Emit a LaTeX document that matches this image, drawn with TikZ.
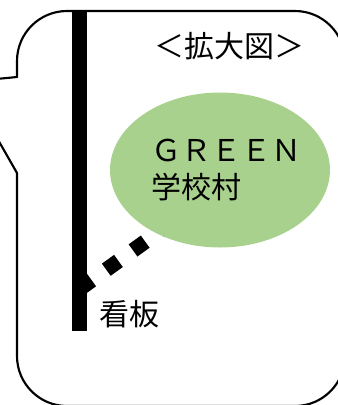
\documentclass[tikz,border=0pt]{standalone}
\usepackage{fontspec}
\usepackage{tikz}
\usetikzlibrary{calc}
\usetikzlibrary{shapes.geometric}
\usetikzlibrary{backgrounds}
\newfontfamily\cjk{Noto Sans CJK JP}
\definecolor{aadd8e}{rgb}{0.6627450980392157,0.8196078431372549,0.5568627450980392}
\tikzset{every node/.style={font=\cjk\fontsize{22.5}{28}\selectfont}}
\tikzset{lbl/.style={inner sep=0pt}}
\tikzset{signdash/.style={line width=11.25pt,dash pattern=on 11.25pt off 13.5pt,line cap=butt}}

\begin{document}
\begin{tikzpicture}[line cap=round,line join=round,x=0.75pt,y=-0.75pt]
\useasboundingbox (0,0) rectangle (338,405);
\clip (0,0) rectangle (338,405);
\draw [line width=1.6pt,rounded corners=37.5pt] (17,173) -- (17,406) -- (345,406) -- (345,11) -- (17,11) -- (17,77);
\draw [line width=1.6pt] (17,77) -- (-35,82) -- (17,173);
\node [ellipse,fill=aadd8e,minimum width=165pt,minimum height=116.25pt,inner sep=0pt] (grn) at (220,170) {};
\coordinate (kanban) at (79.5,289);
\begin{pgfonlayer}{background}
\draw [signdash,shorten >=-12pt] (kanban) -- (grn.225);
\end{pgfonlayer}
\fill (72,12) rectangle (87,331);
\node [lbl] (title) at (230,46) {＜拡大図＞};
\node [lbl,anchor=west,align=left] (grntxt) at (151,170) {ＧＲＥＥＮ\\学校村};
\node [lbl,anchor=west] (kb) at (99,314) {看板};
\end{tikzpicture}
\end{document}
